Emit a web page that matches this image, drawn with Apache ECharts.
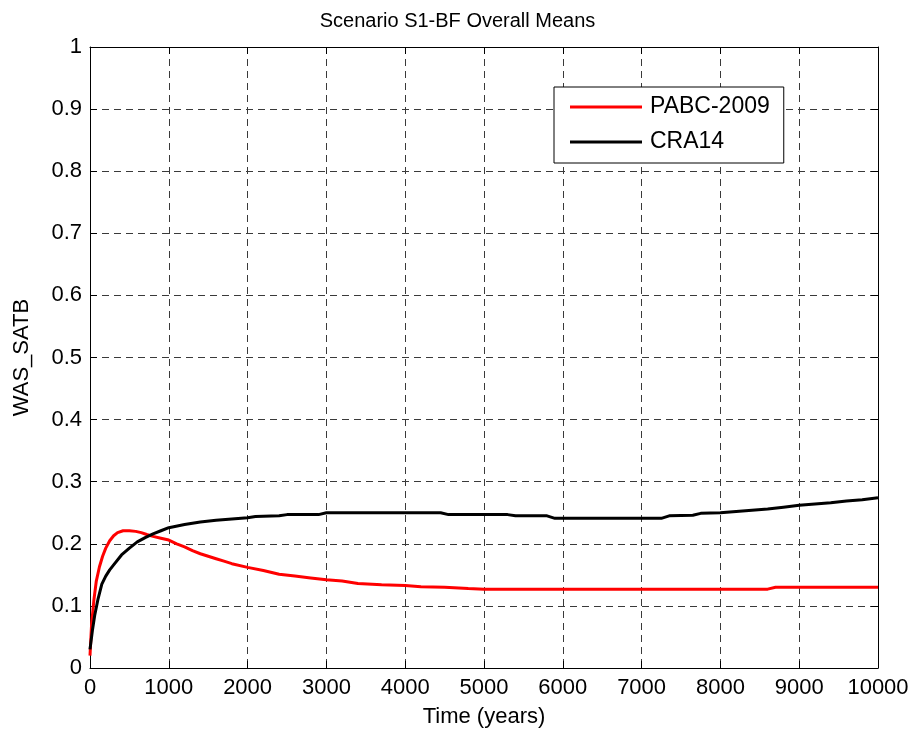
<!DOCTYPE html>
<html>
<head>
<meta charset="utf-8">
<script src="https://cdn.jsdelivr.net/npm/echarts@6/dist/echarts.min.js"></script>
<style>html,body{margin:0;padding:0;background:#fff}#c{width:915px;height:735px}</style>
</head>
<body>
<div id="c"></div>
<script>
const titleText = 'Scenario S1-BF Overall Means';
const xName = 'Time (years)';
const yName = 'WAS_SATB';
const seriesNames = ['PABC-2009', 'CRA14'];

const pabcT = [0, 20, 50, 80, 120, 160, 200, 250, 300, 350, 420, 500, 580, 650, 720, 800, 900, 1000, 1100, 1200, 1300, 1400, 1500, 1600, 1700, 1800, 2000, 2200, 2400, 2600, 2800, 3000, 3200, 3400, 3700, 4000, 4200, 4500, 4800, 5000, 6000, 7000, 8000, 8600, 8700, 8800, 9000, 10000];
const pabcV = [0.02, 0.07, 0.11, 0.14, 0.163, 0.18, 0.193, 0.205, 0.213, 0.218, 0.221, 0.221, 0.220, 0.218, 0.215, 0.212, 0.209, 0.206, 0.200, 0.195, 0.189, 0.184, 0.180, 0.176, 0.172, 0.168, 0.162, 0.157, 0.151, 0.148, 0.145, 0.142, 0.140, 0.136, 0.134, 0.133, 0.131, 0.130, 0.128, 0.127, 0.127, 0.127, 0.127, 0.127, 0.130, 0.130, 0.130, 0.130];

const craT = [0, 30, 60, 100, 150, 200, 250, 300, 400, 500, 600, 700, 800, 900, 1000, 1200, 1400, 1600, 1800, 2000, 2100, 2400, 2500, 2900, 3000, 4450, 4550, 5300, 5400, 5800, 5900, 7250, 7350, 7650, 7750, 8000, 8200, 8400, 8600, 8800, 9000, 9200, 9400, 9600, 9800, 10000];
const craV = [0.03, 0.06, 0.085, 0.11, 0.135, 0.148, 0.158, 0.166, 0.182, 0.193, 0.203, 0.210, 0.216, 0.221, 0.226, 0.231, 0.235, 0.238, 0.240, 0.242, 0.244, 0.245, 0.247, 0.247, 0.250, 0.250, 0.247, 0.247, 0.245, 0.245, 0.241, 0.241, 0.245, 0.246, 0.249, 0.250, 0.252, 0.254, 0.256, 0.259, 0.262, 0.264, 0.266, 0.269, 0.271, 0.274];

const FONT = '"Liberation Sans", Arial, Helvetica, sans-serif';
const zip = (a, b) => a.map((t, i) => [t, b[i]]);

const chart = echarts.init(document.getElementById('c'), null, {renderer: 'canvas'});
const axisLine = {show: true, onZero: false, lineStyle: {color: '#000', width: 1}};
const tick = {show: true, inside: true, length: 7, lineStyle: {color: '#000'}};
const split = {show: true, lineStyle: {color: '#3a3a3a', type: [7, 5], width: 1}};
chart.setOption({
  animation: false,
  backgroundColor: '#fff',
  title: {text: titleText, left: 'center', top: 6, textStyle: {fontFamily: FONT, fontSize: 20, fontWeight: 'normal', color: '#000'}},
  grid: {left: 90, right: 37, top: 47, bottom: 67},
  legend: {
    show: true, orient: 'vertical', left: 554, top: 87,
    data: seriesNames,
    icon: 'rect', itemWidth: 72, itemHeight: 3, itemGap: 11,
    padding: [8, 14, 9, 16],
    borderColor: '#000', borderWidth: 1, backgroundColor: '#fff',
    textStyle: {fontFamily: FONT, fontSize: 23, color: '#000', lineHeight: 24, padding: [0, 0, 0, 3]}
  },
  xAxis: [{
    type: 'value', min: 0, max: 10000, interval: 1000, position: 'bottom',
    name: xName, nameLocation: 'middle', nameGap: 38,
    nameTextStyle: {fontFamily: FONT, fontSize: 22, color: '#000'},
    axisLine, axisTick: tick, splitLine: split,
    axisLabel: {fontFamily: FONT, fontSize: 22, color: '#000', margin: 9, formatter: v => String(v)}
  }, {
    type: 'value', min: 0, max: 10000, interval: 1000, position: 'top',
    axisLine, axisTick: tick, splitLine: {show: false}, axisLabel: {show: false}
  }],
  yAxis: [{
    type: 'value', min: 0, max: 1, interval: 0.1, position: 'left',
    name: yName, nameLocation: 'middle', nameGap: 57,
    nameTextStyle: {fontFamily: FONT, fontSize: 22, color: '#000'},
    axisLine, axisTick: tick, splitLine: split,
    axisLabel: {fontFamily: FONT, fontSize: 22, color: '#000', margin: 8}
  }, {
    type: 'value', min: 0, max: 1, interval: 0.1, position: 'right',
    axisLine, axisTick: tick, splitLine: {show: false}, axisLabel: {show: false}
  }],
  series: [{
    name: seriesNames[0], type: 'line', data: zip(pabcT, pabcV),
    showSymbol: false, symbol: 'none', color: '#ff0000',
    lineStyle: {color: '#ff0000', width: 3}, z: 3
  }, {
    name: seriesNames[1], type: 'line', data: zip(craT, craV),
    showSymbol: false, symbol: 'none', color: '#000',
    lineStyle: {color: '#000', width: 3}, z: 4
  }]
});
</script>
</body>
</html>
